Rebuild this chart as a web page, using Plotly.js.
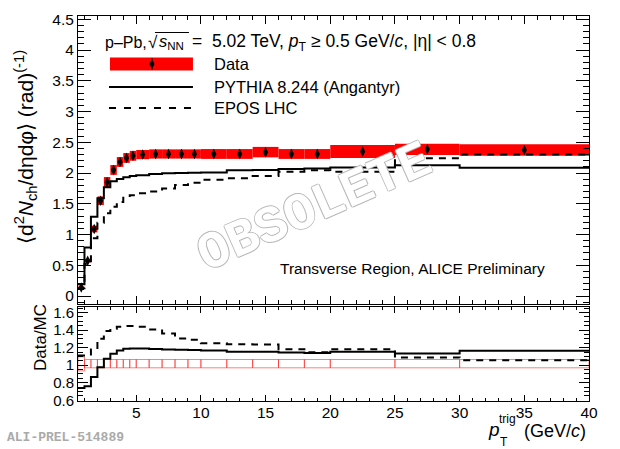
<!DOCTYPE html>
<html>
<head>
<meta charset="utf-8">
<script src="https://cdn.plot.ly/plotly-3.0.1.min.js"></script>
<style>
    html, body { margin: 0; padding: 0; background: #fff; }
    #chart { width: 620px; height: 449px; }
</style>
</head>
<body>
<div id="chart"></div>
<script>
// bin edges in pT trig (GeV/c)
const binEdges = [0.5, 1, 1.5, 2, 2.5, 3, 3.5, 4, 4.5, 5, 6, 7, 8, 9, 10, 12, 14, 16, 18, 20, 25, 30, 40];

// data, transverse region
const dataY    = [0.14, 0.575, 1.09, 1.55, 1.85, 2.05, 2.18, 2.245, 2.28, 2.30, 2.31, 2.31, 2.31, 2.31, 2.31, 2.31, 2.34, 2.31, 2.31, 2.35, 2.385, 2.375];
const dataStat = [0.01, 0.01, 0.01, 0.01, 0.01, 0.01, 0.01, 0.01, 0.01, 0.01, 0.01, 0.01, 0.015, 0.015, 0.015, 0.02, 0.02, 0.025, 0.025, 0.02, 0.03, 0.03];
const dataSyst = [0.015, 0.03, 0.055, 0.07, 0.085, 0.08, 0.08, 0.08, 0.08, 0.075, 0.075, 0.075, 0.075, 0.075, 0.08, 0.08, 0.085, 0.08, 0.08, 0.105, 0.09, 0.095];

// models
const pythiaY = [0.19, 0.79, 1.29, 1.59, 1.77, 1.865, 1.905, 1.93, 1.95, 1.965, 1.985, 1.995, 2.0, 2.005, 2.01, 2.045, 2.05, 2.065, 2.075, 2.09, 2.125, 2.087];
const eposY   = [0.125, 0.52, 0.94, 1.19, 1.345, 1.45, 1.53, 1.60, 1.64, 1.67, 1.70, 1.75, 1.805, 1.84, 1.89, 1.915, 1.95, 2.02, 2.045, 2.02, 2.24, 2.30];

// ratios Data/MC
const ratioPythia = [0.74, 0.76, 0.866, 0.977, 1.072, 1.13, 1.168, 1.187, 1.19, 1.19, 1.185, 1.18, 1.175, 1.172, 1.168, 1.152, 1.152, 1.145, 1.14, 1.152, 1.133, 1.164];
const ratioEpos   = [1.11, 1.11, 1.18, 1.30, 1.389, 1.415, 1.438, 1.446, 1.446, 1.438, 1.408, 1.362, 1.305, 1.29, 1.25, 1.238, 1.235, 1.183, 1.148, 1.183, 1.088, 1.057];
const ratioSystLo = [0.935, 0.97, 0.97, 0.97, 0.97, 0.97, 0.97, 0.97, 0.97, 0.97, 0.97, 0.97, 0.97, 0.97, 0.97, 0.97, 0.97, 0.97, 0.97, 0.97, 0.97, 0.97];
const ratioSystHi = [1.095, 1.065, 1.065, 1.065, 1.065, 1.065, 1.065, 1.065, 1.065, 1.065, 1.065, 1.065, 1.065, 1.065, 1.065, 1.065, 1.065, 1.065, 1.065, 1.065, 1.065, 1.065];

// derived bin helpers
const centers = binEdges.slice(0, -1).map((e, i) => (e + binEdges[i + 1]) / 2);
const widths  = binEdges.slice(0, -1).map((e, i) => binEdges[i + 1] - e);
const step = arr => arr.concat([arr[arr.length - 1]]); // repeat last value for 'hv' lines

// pixel -> paper helpers for labels / legend
const L = 78, R = 589.2, T = 16, B = 401;
const px = p => (p - L) / (R - L);
const py = p => (B - p) / (B - T);

const FONT = 'Liberation Sans, Arial, Helvetica, sans-serif';

let traces = [
    // top panel: systematic boxes
    {
        type: 'bar', xaxis: 'x2', yaxis: 'y2',
        x: centers, width: widths,
        base: dataY.map((v, i) => v - dataSyst[i]),
        y: dataSyst.map(s => 2 * s),
        marker: { color: '#ff0000', line: { width: 0 } },
        hoverinfo: 'skip'
    },
    {
        type: 'scatter', mode: 'lines', xaxis: 'x2', yaxis: 'y2',
        x: binEdges, y: step(eposY), line: { shape: 'hv', color: '#000', width: 2, dash: '7px,6px' }
    },
    {
        type: 'scatter', mode: 'lines', xaxis: 'x2', yaxis: 'y2',
        x: binEdges, y: step(pythiaY), line: { shape: 'hv', color: '#000', width: 2 }
    },
    {
        type: 'scatter', mode: 'markers', xaxis: 'x2', yaxis: 'y2',
        x: centers, y: dataY,
        error_y: { type: 'data', array: dataStat, color: '#000', thickness: 1, width: 0 },
        marker: { symbol: 'diamond-tall', size: 7.5, color: '#000' }
    },
    // bottom panel: ratio boxes and lines
    {
        type: 'bar', xaxis: 'x', yaxis: 'y',
        x: centers, width: widths,
        base: ratioSystLo,
        y: ratioSystHi.map((v, i) => v - ratioSystLo[i]),
        marker: { color: 'rgba(0,0,0,0)', line: { color: 'rgba(255,0,0,0.5)', width: 1 } },
        hoverinfo: 'skip'
    },
    {
        type: 'scatter', mode: 'lines', xaxis: 'x', yaxis: 'y',
        x: binEdges, y: step(ratioEpos), line: { shape: 'hv', color: '#000', width: 2, dash: '7px,6px' }
    },
    {
        type: 'scatter', mode: 'lines', xaxis: 'x', yaxis: 'y',
        x: binEdges, y: step(ratioPythia), line: { shape: 'hv', color: '#000', width: 2 }
    }
];

const axisBase = {
    showline: true, linecolor: '#000', linewidth: 1, mirror: 'ticks',
    ticks: 'inside', tickcolor: '#000', tickwidth: 1,
    showgrid: false, zeroline: false, fixedrange: true
};

let annText = (text, x, y, size, opts) => Object.assign({
    xref: 'paper', yref: 'paper', x: px(x), y: py(y), text: text, showarrow: false,
    xanchor: 'left', yanchor: 'middle', font: { family: FONT, size: size, color: '#000' }
}, opts || {});

let annotations = [
    // header, split so the root sign and its bar line up
    annText('p–Pb,', 103, 42, 16),
    annText('√', 146, 42, 17),
    annText('<i>s</i><sub>NN</sub>', 157, 42, 16.5),
    annText('=  5.02 TeV, <i>p</i><sub>T</sub> ≥ 0.5 GeV/<i>c</i>, |η| &lt; 0.8', 190, 42, 17.5),
    annText('Data', 212, 64, 16.5),
    annText('PYTHIA 8.244 (Angantyr)', 212, 87, 16.5),
    annText('EPOS LHC', 212, 108, 16.5),
    annText('Transverse Region, ALICE Preliminary', 547, 268, 15.5, { xanchor: 'right' }),
    annText('⟨d<sup>2</sup><i>N</i><sub>ch</sub>/dηdφ⟩ (rad)<sup>(-1)</sup>', 25, 147, 21, { xanchor: 'center', textangle: -90 }),
    annText('Data/MC', 40, 338, 17, { xanchor: 'center', textangle: -90 }),
    annText('<i>p</i>', 494, 429, 19, { xanchor: 'center' }),
    annText('trig', 508, 419, 12, { xanchor: 'center' }),
    annText('T', 504, 442, 12, { xanchor: 'center' }),
    annText('(GeV/<i>c</i>)', 555, 431, 18, { xanchor: 'center' }),
    annText('<b>ALI-PREL-514889</b>', 5, 438, 13, { font: { family: 'Liberation Mono, Courier New, monospace', size: 13, color: '#aaaaaa' } }),
    annText('<b>OBSOLETE</b>', 315, 208, 52, {
        xanchor: 'center', textangle: -23.8,
        font: {
            family: 'Liberation Mono, Courier New, monospace', size: 52, color: '#ffffff',
            shadow: '1px 0 0 #b8b8b8, -1px 0 0 #b8b8b8, 0 1px 0 #b8b8b8, 0 -1px 0 #b8b8b8'
        }
    })
];

let shapes = [
    // legend symbols
    { type: 'rect', xref: 'paper', yref: 'paper', x0: px(110), x1: px(193), y0: py(70.5), y1: py(57.5), fillcolor: '#ff0000', line: { width: 0 } },
    { type: 'line', xref: 'paper', yref: 'paper', x0: px(152), x1: px(152), y0: py(70), y1: py(58), line: { color: '#000', width: 1 } },
    {
        type: 'path', xref: 'paper', yref: 'paper', fillcolor: '#000', line: { width: 0 },
        path: 'M' + px(152) + ',' + py(59) + ' L' + px(154.6) + ',' + py(64) + ' L' + px(152) + ',' + py(69) + ' L' + px(149.4) + ',' + py(64) + ' Z'
    },
    { type: 'line', xref: 'paper', yref: 'paper', x0: px(109), x1: px(193), y0: py(87), y1: py(87), line: { color: '#000', width: 2 } },
    { type: 'line', xref: 'paper', yref: 'paper', x0: px(109), x1: px(193), y0: py(108), y1: py(108), line: { color: '#000', width: 2, dash: '7px,8px' } },
    // overline of the square root
    { type: 'line', xref: 'paper', yref: 'paper', x0: px(155), x1: px(189), y0: py(32.5), y1: py(32.5), line: { color: '#000', width: 1 } }
];

let layout = {
    width: 620, height: 449,
    margin: { l: L, r: 620 - R, t: T, b: 449 - B, pad: 0 },
    paper_bgcolor: '#fff', plot_bgcolor: '#fff',
    showlegend: false,
    barmode: 'overlay',
    font: { family: FONT, color: '#000' },
    xaxis: Object.assign({}, axisBase, {
        domain: [0, 1], anchor: 'y', range: [0.5, 40],
        dtick: 5, tick0: 0, ticklen: 6,
        minor: { dtick: 1, ticklen: 3, ticks: 'inside', tickcolor: '#000' },
        tickfont: { family: FONT, size: 15.5 },
        ticklabelstandoff: -3
    }),
    yaxis: Object.assign({}, axisBase, {
        domain: [0, (B - 307) / (B - T)], anchor: 'x', range: [0.592, 1.663],
        dtick: 0.2, tick0: 0.6, ticklen: 10,
        minor: { dtick: 0.05, ticklen: 5, ticks: 'inside', tickcolor: '#000' },
        tickfont: { family: FONT, size: 15 }
    }),
    xaxis2: Object.assign({}, axisBase, {
        domain: [0, 1], anchor: 'y2', range: [0.5, 40], matches: 'x',
        dtick: 5, tick0: 0, ticklen: 8, showticklabels: false,
        minor: { dtick: 1, ticklen: 4, ticks: 'inside', tickcolor: '#000' }
    }),
    yaxis2: Object.assign({}, axisBase, {
        domain: [(B - 304) / (B - T), 1], anchor: 'x2', range: [-0.13, 4.554],
        dtick: 0.5, tick0: 0, ticklen: 13,
        minor: { dtick: 0.1, ticklen: 6, ticks: 'inside', tickcolor: '#000' },
        tickfont: { family: FONT, size: 15.5 }
    }),
    annotations: annotations,
    shapes: shapes
};

Plotly.newPlot('chart', traces, layout, { displayModeBar: false, staticPlot: true });
</script>
</body>
</html>
